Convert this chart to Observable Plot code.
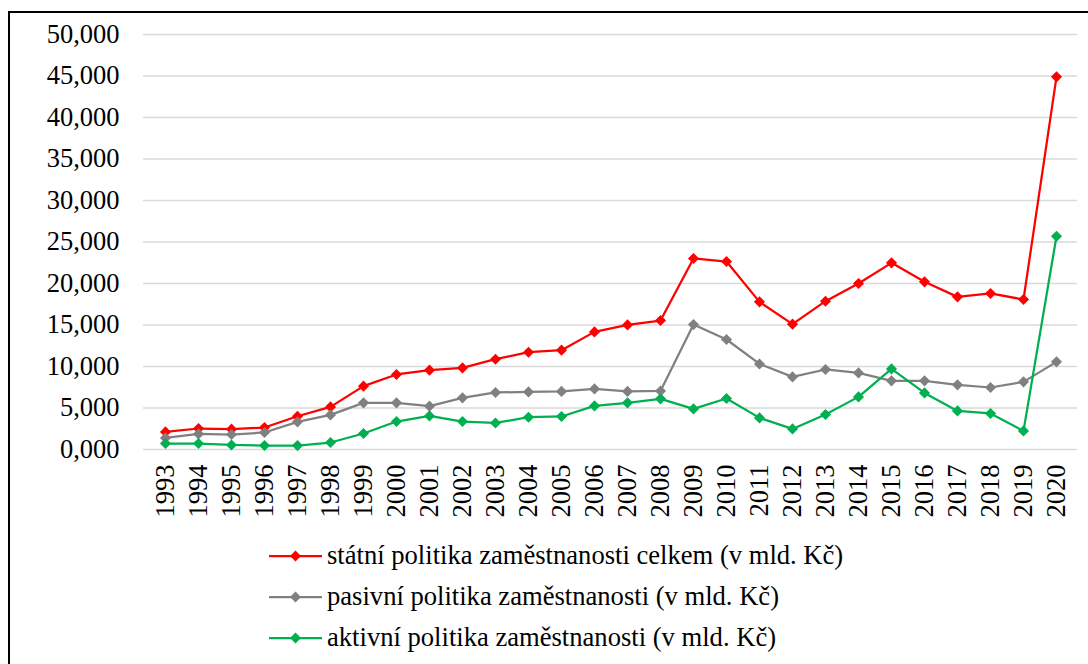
<!DOCTYPE html>
<html>
<head>
<meta charset="utf-8">
<script src="https://cdn.jsdelivr.net/npm/d3@7"></script>
<script src="https://cdn.jsdelivr.net/npm/@observablehq/plot@0.6"></script>
<style>
  html, body { margin: 0; padding: 0; background: #fff; width: 1088px; height: 664px; overflow: hidden; }
  body { position: relative; font-family: "Liberation Serif", "Times New Roman", serif; }
  #frame { position: absolute; left: 8px; top: 11px; width: 1200px; height: 800px;
           border-left: 2px solid #000; border-top: 2px solid #000; box-sizing: border-box; }
  #chart { position: absolute; left: 0; top: 0; }
  #legend { position: absolute; left: 269px; top: 535px; font-size: 26.6px; color: #000; }
  .row { display: flex; align-items: center; height: 41px; white-space: nowrap; }
  .row svg { margin-right: 5px; }
</style>
</head>
<body>
<div id="frame"></div>
<div id="chart"></div>
<div id="legend"></div>
<script>
const years = [1993, 1994, 1995, 1996, 1997, 1998, 1999, 2000, 2001, 2002, 2003, 2004, 2005, 2006,
               2007, 2008, 2009, 2010, 2011, 2012, 2013, 2014, 2015, 2016, 2017, 2018, 2019, 2020];
const statni = [2.12, 2.53, 2.45, 2.65, 4.01, 5.13, 7.63, 9.04, 9.56, 9.83, 10.88, 11.72, 11.97, 14.17,
                15.01, 15.54, 23.02, 22.65, 17.79, 15.10, 17.87, 20.00, 22.49, 20.20, 18.39, 18.80, 18.07, 44.90];
const pasivni = [1.40, 1.88, 1.80, 2.05, 3.33, 4.17, 5.62, 5.62, 5.22, 6.22, 6.87, 6.94, 7.00, 7.30,
                 7.00, 7.05, 15.05, 13.25, 10.31, 8.75, 9.64, 9.23, 8.27, 8.27, 7.79, 7.47, 8.15, 10.56];
const aktivni = [0.72, 0.72, 0.55, 0.48, 0.47, 0.84, 1.93, 3.37, 4.05, 3.37, 3.20, 3.89, 3.98, 5.25,
                 5.62, 6.10, 4.89, 6.15, 3.81, 2.48, 4.22, 6.34, 9.71, 6.82, 4.65, 4.34, 2.24, 25.70];
const seriesNames = [
  "státní politika zaměstnanosti celkem (v mld. Kč)",
  "pasivní politika zaměstnanosti (v mld. Kč)",
  "aktivní politika zaměstnanosti (v mld. Kč)"
];
const seriesColors = ["#FF0000", "#808080", "#00B050"];
const yTicks = [0, 5, 10, 15, 20, 25, 30, 35, 40, 45, 50];

const seriesValues = [statni, pasivni, aktivni];
const fmt = d => d.toFixed(3).replace(".", ",");
const serif = "'Liberation Serif', 'Times New Roman', serif";

const lineMarks = [];
seriesValues.forEach((vals, i) => {
  const data = years.map((yr, j) => ({year: yr, value: vals[j]}));
  lineMarks.push(Plot.line(data, {x: "year", y: "value", stroke: seriesColors[i], strokeWidth: 2.25}));
  lineMarks.push(Plot.dot(data, {x: "year", y: "value", fill: seriesColors[i], symbol: "diamond2", r: 5}));
});

const chart = Plot.plot({
  width: 1088,
  height: 530,
  marginLeft: 143,
  marginRight: 11,
  marginTop: 34,
  marginBottom: 81,
  style: {fontFamily: serif, fontSize: "26.5px", color: "#000", background: "transparent", overflow: "visible"},
  x: {type: "point", domain: years, padding: 0.5},
  y: {domain: [0, 50]},
  marks: [
    Plot.gridY(yTicks, {stroke: "#d9d9d9", strokeOpacity: 1, strokeWidth: 1.5}),
    Plot.axisY(yTicks, {tickSize: 0, tickPadding: 24, tickFormat: fmt, fontSize: 26.5, fontFamily: serif, label: null}),
    Plot.axisX({tickRotate: -90, tickSize: 0, tickPadding: 15, fontSize: 26.5, fontFamily: serif, label: null, tickFormat: d => String(d)}),
    ...lineMarks
  ]
});
document.getElementById("chart").appendChild(chart);

const legend = document.getElementById("legend");
seriesNames.forEach((name, i) => {
  const row = document.createElement("div");
  row.className = "row";
  const c = seriesColors[i];
  row.innerHTML = `<svg width="53" height="16"><line x1="0" y1="8" x2="53" y2="8" stroke="${c}" stroke-width="2.25"/>` +
    `<polygon points="26.5,2.5 32,8 26.5,13.5 21,8" fill="${c}"/></svg><span>${name}</span>`;
  legend.appendChild(row);
});
</script>
</body>
</html>
